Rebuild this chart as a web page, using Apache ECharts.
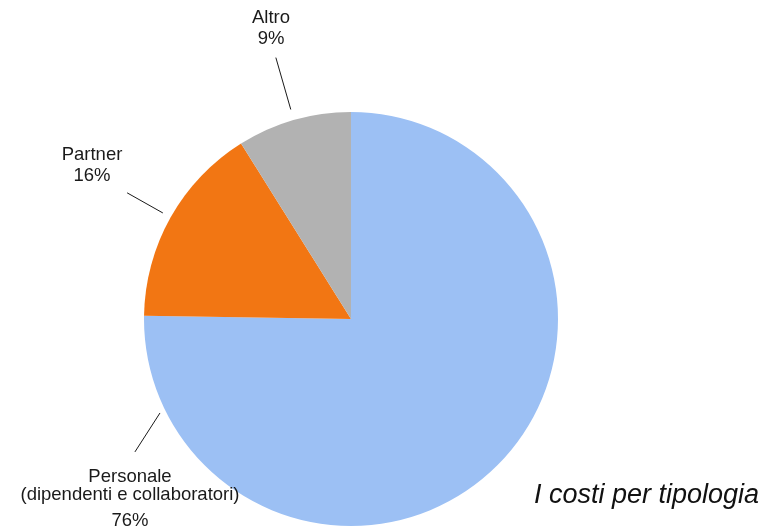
<!DOCTYPE html>
<html>
<head>
<meta charset="utf-8">
<script src="https://cdn.jsdelivr.net/npm/echarts@6/dist/echarts.min.js"></script>
<style>
  html, body { margin: 0; padding: 0; background: #ffffff; }
  #chart { width: 763px; height: 528px; }
</style>
</head>
<body>
<div id="chart"></div>
<script>
// ---- data ----
const categories = ['Personale\n(dipendenti e collaboratori)', 'Partner', 'Altro'];
const values = [76, 16, 9];
const colors = ['#9CC0F4', '#F27613', '#B2B2B2'];
const chartTitle = 'I costi per tipologia';

// ---- layout (positions only) ----
const CX = 351, CY = 319, R = 207;
const FONT = "'Liberation Sans', Arial, Helvetica, sans-serif";
// label block positions: [x center, y top]
const labelPos = [[130, 468], [92, 144], [271, 7]];
// leader lines: radial at slice mid-angle (r1 -> r2), or custom polar points
const leader = [
  { custom: [[243.8, 212.9], [238.4, 253.7]] },
  { r1: 216, r2: 257 },
  { r1: 218, r2: 272 }
];

function polar(cwDeg, r) {
  const a = cwDeg * Math.PI / 180;
  return [CX + r * Math.sin(a), CY - r * Math.cos(a)];
}
const total = values.reduce((s, v) => s + v, 0);
function midAngle(i) {
  let cum = 0;
  for (let k = 0; k < i; k++) cum += values[k];
  return (cum + values[i] / 2) / total * 360;
}

const chart = echarts.init(document.getElementById('chart'), null, { renderer: 'canvas' });

const rich = {
  a: { fontSize: 18.5, lineHeight: 21.5, fontFamily: FONT, color: '#1a1a1a' },
  p: { fontSize: 18.5, lineHeight: 18, fontFamily: FONT, color: '#1a1a1a' },
  pv: { fontSize: 18.5, lineHeight: 33, fontFamily: FONT, color: '#1a1a1a' }
};

chart.setOption({
  animation: false,
  backgroundColor: '#ffffff',
  title: {
    text: chartTitle,
    right: 4,
    top: 482,
    padding: 0,
    textStyle: {
      fontFamily: FONT,
      fontSize: 27,
      fontStyle: 'italic',
      fontWeight: 'normal',
      color: '#111111'
    }
  },
  series: [{
    type: 'pie',
    center: [CX, CY],
    radius: R,
    startAngle: 90,
    clockwise: true,
    avoidLabelOverlap: false,
    silent: true,
    emphasis: { disabled: true },
    itemStyle: { borderWidth: 0 },
    data: categories.map((c, i) => ({ name: c, value: values[i], itemStyle: { color: colors[i] } })),
    label: {
      show: true,
      position: 'outside',
      rich: rich,
      formatter: function (p) {
        const lines = p.name.split('\n');
        if (p.dataIndex === 0) {
          return lines.map(l => '{p|' + l + '}').join('\n') + '\n{pv|' + p.value + '%}';
        }
        return lines.map(l => '{a|' + l + '}').join('\n') + '\n{a|' + p.value + '%}';
      }
    },
    labelLine: {
      show: true,
      length: 10,
      length2: 0,
      lineStyle: { color: '#1a1a1a', width: 1 }
    },
    labelLayout: function (params) {
      const i = params.dataIndex;
      const L = leader[i];
      let pts;
      if (L.custom) {
        pts = L.custom.map(q => polar(q[0], q[1]));
      } else {
        const m = midAngle(i);
        pts = [polar(m, L.r1), polar(m, L.r2)];
      }
      return {
        x: labelPos[i][0],
        y: labelPos[i][1],
        align: 'center',
        verticalAlign: 'top',
        labelLinePoints: pts
      };
    }
  }]
});
</script>
</body>
</html>
